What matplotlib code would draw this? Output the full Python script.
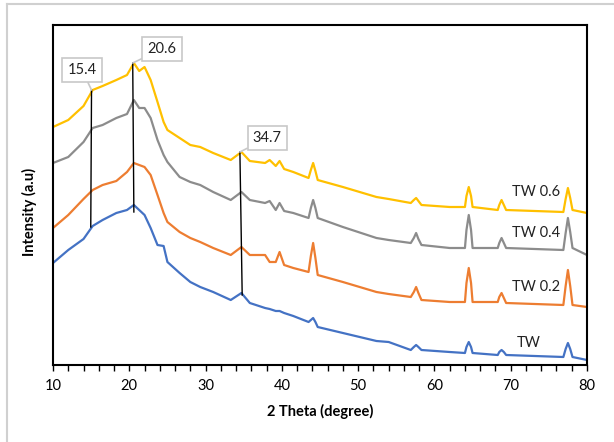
import matplotlib
matplotlib.use("Agg")
import matplotlib.pyplot as plt
from matplotlib.lines import Line2D
from matplotlib.ticker import MultipleLocator

# 2 theta positions (degree) shared by all patterns
two_theta = [10, 12, 14, 15.2, 16.5, 18.3, 19.7, 20.6, 21.3, 22.0, 22.8, 23.7, 24.5, 25.0,
             26.6, 28, 29.3, 31, 33.3, 34.7, 35.8, 37.8, 38.4, 39.2, 39.7, 40.3, 41.5,
             43.5, 43.8, 44.1, 44.4, 44.7, 48, 52.4, 54.0, 56.9, 57.3, 57.6, 57.9, 58.3,
             62, 64.0, 64.2, 64.5, 64.8, 65.0, 68.3, 68.5, 68.8, 69.1, 69.4,
             76.9, 77.2, 77.5, 77.8, 78.1, 80]

# intensities (a.u, stacked)
tw = [102, 115, 126, 139, 145, 152, 155, 160, 155, 150, 137, 120, 119, 103,
      92, 83, 78, 73, 65, 72, 62, 57, 56, 54, 54, 52, 49,
      43, 45, 47, 43, 38, 32, 24, 23, 15, 18, 20, 18, 15,
      13, 12, 18, 23, 18, 12, 10, 13, 15, 13, 10,
      8, 16, 22, 16, 8, 5]
tw_02 = [137, 150, 166, 175, 180, 184, 193, 202, 200, 198, 190, 170, 152, 143,
         133, 127, 123, 117, 110, 118, 110, 110, 103, 103, 113, 100, 97,
         93, 109, 122, 107, 90, 83, 73, 71, 68, 73, 78, 72, 65,
         63, 63, 82, 97, 82, 63, 63, 68, 72, 67, 62,
         60, 79, 95, 79, 60, 58]
tw_04 = [202, 208, 223, 237, 240, 247, 251, 265, 257, 257, 247, 225, 210, 203,
         188, 183, 180, 173, 165, 173, 165, 162, 164, 155, 162, 154, 152,
         147, 157, 165, 157, 147, 138, 127, 125, 122, 127, 132, 126, 120,
         117, 117, 135, 150, 135, 117, 117, 122, 127, 122, 117,
         115, 132, 147, 133, 117, 110]
tw_06 = [238, 245, 259, 275, 279, 285, 290, 302, 294, 298, 285, 263, 243, 235,
         227, 220, 218, 212, 205, 213, 204, 202, 205, 199, 204, 196, 193,
         187, 195, 202, 194, 185, 178, 168, 166, 162, 165, 167, 164, 160,
         158, 158, 169, 178, 169, 158, 155, 160, 165, 160, 155,
         153, 166, 177, 167, 155, 152]

series_names = ["TW", "TW 0.2", "TW 0.4", "TW 0.6"]
series_colors = ["#4472C4", "#ED7D31", "#8C8C8C", "#FFC000"]
label_x = [72.3, 73.3, 73.3, 73.3]
label_y = [22, 78, 132, 173]

# peak guide lines and callouts
peak_labels = ["15.4", "20.6", "34.7"]
peak_x_top = [15.05, 20.45, 34.5]
peak_x_bottom = [14.95, 20.6, 34.8]
peak_y_top = [275, 302, 213]
peak_y_bottom = [138, 153, 70]
callout_x = [13.8, 24.3, 38.1]
callout_y = [295, 316, 227]

plt.rcParams['font.family'] = ['Lato', 'DejaVu Sans']

fig = plt.figure(figsize=(6.14, 4.42), dpi=100)
ax = fig.add_axes([53 / 614, 77 / 442, 534 / 614, 340 / 442])

for vals, name, col in zip([tw, tw_02, tw_04, tw_06], series_names, series_colors):
    ax.plot(two_theta, vals, color=col, lw=1.6)

for name, lx, ly in zip(series_names, label_x, label_y):
    ax.text(lx, ly, name, fontsize=10.5, ha='center', va='center', color='#222222')

for i in range(len(peak_labels)):
    ax.plot([peak_x_top[i], peak_x_bottom[i]], [peak_y_top[i], peak_y_bottom[i]],
            color='black', lw=1.0)
    ax.annotate(peak_labels[i], xy=(peak_x_top[i], peak_y_top[i]),
                xytext=(callout_x[i], callout_y[i]), fontsize=10.5,
                ha='center', va='center', color='#222222',
                bbox=dict(boxstyle='square,pad=0.35', fc='white', ec='#C8C8C8', lw=1.2),
                arrowprops=dict(arrowstyle='-', color='#C8C8C8', lw=1.2,
                                shrinkA=0, shrinkB=0))

ax.set_xlim(10, 80)
ax.set_ylim(0, 340)
ax.xaxis.set_major_locator(MultipleLocator(10))
ax.xaxis.set_minor_locator(MultipleLocator(2))
ax.tick_params(axis='x', which='both', direction='out', length=4, width=1, labelsize=10.5,
               pad=6, colors='black')
ax.set_yticks([])
for s in ax.spines.values():
    s.set_linewidth(1.5)
    s.set_color('black')

ax.set_xlabel("2 Theta (degree)", fontsize=10.5, fontweight='bold', labelpad=8)
ax.set_ylabel("Intensity (a.u)", fontsize=10.5, fontweight='bold')
ax.yaxis.set_label_coords(-0.03, 0.45)

# outer chart border
fig.add_artist(Line2D([7 / 614, 7 / 614], [0, 1 - 4 / 442], color='#D0D0D0', lw=1.5))
fig.add_artist(Line2D([7 / 614, 1], [1 - 4 / 442, 1 - 4 / 442], color='#D0D0D0', lw=1.5))

fig.savefig("out.png", dpi=100)
